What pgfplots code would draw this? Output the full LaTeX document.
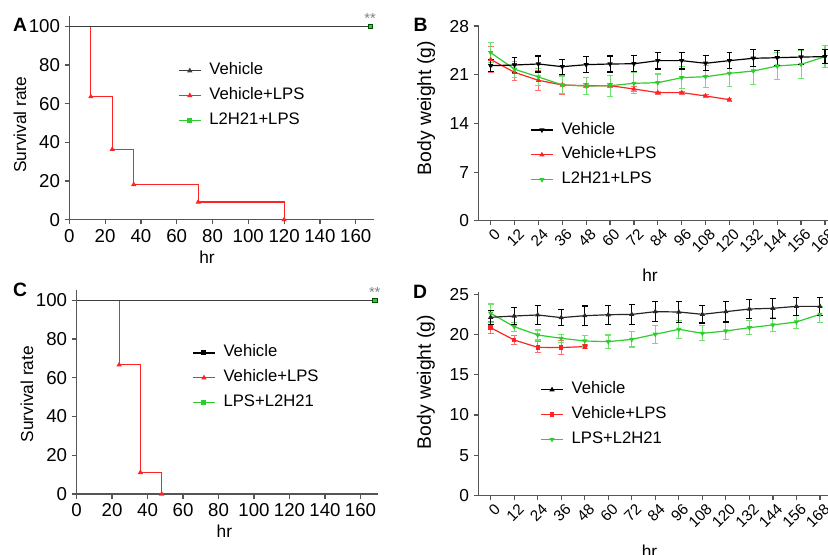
\documentclass[border=0pt]{standalone}
\usepackage{fontspec}
\setmainfont{Liberation Sans}
\usepackage{pgfplots}
\pgfplotsset{compat=1.18}
\definecolor{axgray}{RGB}{85,85,85}
\definecolor{vgray}{RGB}{60,60,60}
\definecolor{lpsred}{RGB}{255,35,35}
\definecolor{lgreen}{RGB}{45,205,45}
\definecolor{errred}{RGB}{255,110,110}
\definecolor{errgreen}{RGB}{110,225,110}
\pgfplotsset{
  panel/.style={
    anchor=south west,
    axis lines=left,
    axis line style={-, line width=0.9pt, draw=axgray},
    tick align=outside,
    major tick length=3.5pt,
    tick style={line width=0.9pt, draw=axgray},
    enlargelimits=false,
    clip=false,
    /pgf/number format/assume math mode=true,
    label style={font=\fontsize{13}{15}\selectfont},
    legend cell align=left,
    legend style={draw=none, fill=none, inner sep=0pt, row sep=6.6pt, column sep=6pt,
      nodes={inner sep=0pt, text height=9pt, text depth=3pt, font=\fontsize{12.5}{14}\selectfont}},
    legend image code/.code={\draw[##1, mark indices={2}] plot coordinates {(0pt,0pt) (8.25pt,0pt) (16.5pt,0pt)};},
  },
  wpanel/.style={
    ticklabel style={font=\fontsize{13}{13}\selectfont},
    xticklabel style={font=\fontsize{11.5}{12}\selectfont, rotate=45, anchor=east, inner sep=0pt, xshift=0.5pt, yshift=-7pt},
    ylabel style={font=\fontsize{14.5}{16}\selectfont},
    error bars/y dir=both, error bars/y explicit,
    error bars/error mark options={rotate=90, mark size=2.2pt, line width=0.8pt},
  },
  ln/.style={line width=0.9pt, mark size=1.4pt},
}
\begin{document}
\begin{tikzpicture}
\path[use as bounding box] (0pt,0pt) rectangle (621pt,416.25pt);
% ---------------- A ----------------
\begin{axis}[panel, at={(51.98pt,251.48pt)}, x=1.3425pt, y=1.4505pt,
  xmin=0, xmax=170, ymin=0, ymax=105.3,
  xtick={0,20,...,160}, ytick={0,20,...,100},
  ticklabel style={font=\fontsize{14}{14}\selectfont},
  ylabel={Survival rate}, ylabel style={at={(rel axis cs:-0.162,0.466)}, anchor=center},
  xlabel={hr}, xlabel style={at={(rel axis cs:0.4525,-0.184)}, anchor=center},
  legend style={at={(rel axis cs:0.357,0.772)}, anchor=north west}]
\addlegendimage{vgray, ln, mark=triangle*}
\addlegendentry{Vehicle}
\addlegendimage{lpsred, ln, mark=triangle*}
\addlegendentry{Vehicle+LPS}
\addlegendimage{lgreen, ln, mark=square*}
\addlegendentry{L2H21+LPS}
\addplot[forget plot, lgreen, ln] coordinates {(0,100) (168,100)};
\addplot[forget plot, lpsred, ln, const plot, mark=triangle*, mark indices={2,3,4,5,6}]
  coordinates {(0,100) (12,63.6) (24,36.4) (36,18.2) (72,9.1) (120,0)};
\addplot[forget plot, vgray, ln] coordinates {(0,100) (168,100)};
\addplot[forget plot, only marks, mark=square*, mark size=1.6pt, mark indices={2},
  mark options={fill=lgreen, draw=black!70!green}] coordinates {(0,100) (168,100)};
\node[font=\fontsize{11}{11}\selectfont, text=gray, anchor=south, inner sep=0pt] at (axis cs:168,101.5) {**};
\end{axis}
% ---------------- B ----------------
\begin{axis}[panel, wpanel, at={(358.73pt,250.65pt)}, x=1.4925pt, y=5.2155pt,
  xmin=-6.2, xmax=169.5, ymin=0, ymax=28.2,
  xtick={0,12,...,168}, ytick={0,7,...,28},
  ylabel={Body weight (g)}, ylabel style={at={(rel axis cs:-0.1496,0.575)}, anchor=center},
  xlabel={hr}, xlabel style={at={(rel axis cs:0.491,-0.276)}, anchor=center},
  legend style={at={(rel axis cs:0.148,0.505)}, anchor=north west}]
\addlegendimage{black, ln, mark=triangle*, mark options={rotate=180}}
\addlegendentry{Vehicle}
\addlegendimage{lpsred, ln, mark=triangle*}
\addlegendentry{Vehicle+LPS}
\addlegendimage{lgreen, ln, mark=triangle*, mark options={rotate=180}}
\addlegendentry{L2H21+LPS}
\addplot[forget plot, lpsred, ln, mark=triangle*, error bars/error bar style={errred, line width=0.8pt}]
  coordinates {(0,23.2) +- (0,1.9) (12,21.35) +- (0,1.2) (24,20.2) +- (0,1.4) (36,19.53) +- (0,1.3)
  (48,19.43) +- (0,0.3) (60,19.43) +- (0,0.3) (72,18.95) +- (0,0.3) (84,18.43) +- (0,0.2)
  (96,18.43) +- (0,0.2) (108,17.95) +- (0,0.2) (120,17.42) +- (0,0.2)};
\addplot[forget plot, lgreen, ln, mark=triangle*, mark options={rotate=180}, error bars/error bar style={errgreen, line width=0.8pt}]
  coordinates {(0,24.18) +- (0,1.4) (12,21.8) +- (0,1.15) (24,20.68) +- (0,1.25) (36,19.53) +- (0,1.2)
  (48,19.38) +- (0,1.22) (60,19.43) +- (0,1.5) (72,19.77) +- (0,1.5) (84,19.86) +- (0,1.25)
  (96,20.58) +- (0,1.55) (108,20.72) +- (0,1.6) (120,21.2) +- (0,1.85) (132,21.54) +- (0,1.9)
  (144,22.26) +- (0,1.94) (156,22.5) +- (0,2.0) (168,23.6) +- (0,1.6)};
\addplot[forget plot, black, ln, mark=triangle*, mark options={rotate=180}, error bars/error bar style={black, line width=0.8pt}]
  coordinates {(0,22.3) +- (0,0.85) (12,22.4) +- (0,1.05) (24,22.55) +- (0,1.15) (36,22.16) +- (0,1.07)
  (48,22.45) +- (0,1.15) (60,22.55) +- (0,1.15) (72,22.58) +- (0,1.13) (84,23.03) +- (0,1.2)
  (96,23.03) +- (0,1.2) (108,22.65) +- (0,1.08) (120,23.03) +- (0,1.15) (132,23.37) +- (0,1.2)
  (144,23.45) +- (0,1.1) (156,23.55) +- (0,1.05) (168,23.6) +- (0,1.0)};
\end{axis}
% ---------------- C ----------------
\begin{axis}[panel, at={(57.38pt,45.75pt)}, x=1.33125pt, y=1.45275pt,
  xmin=0, xmax=170, ymin=0, ymax=105.3,
  xtick={0,20,...,160}, ytick={0,20,...,100},
  ticklabel style={font=\fontsize{14}{14}\selectfont},
  ylabel={Survival rate}, ylabel style={at={(rel axis cs:-0.164,0.49)}, anchor=center},
  xlabel={hr}, xlabel style={at={(rel axis cs:0.49,-0.181)}, anchor=center},
  legend style={at={(rel axis cs:0.383,0.732)}, anchor=north west}]
\addlegendimage{black, ln, mark=square*}
\addlegendentry{Vehicle}
\addlegendimage{lpsred, ln, mark=triangle*}
\addlegendentry{Vehicle+LPS}
\addlegendimage{lgreen, ln, mark=square*}
\addlegendentry{LPS+L2H21}
\addplot[forget plot, lgreen, ln] coordinates {(0,100) (168,100)};
\addplot[forget plot, lpsred, ln, const plot, mark=triangle*, mark indices={2,3,4}]
  coordinates {(0,100) (24,66.7) (36,11.1) (48,0)};
\addplot[forget plot, vgray, ln] coordinates {(0,100) (168,100)};
\addplot[forget plot, only marks, mark=square*, mark size=1.6pt, mark indices={2},
  mark options={fill=lgreen, draw=black!70!green}] coordinates {(0,100) (168,100)};
\node[font=\fontsize{11}{11}\selectfont, text=gray, anchor=south, inner sep=0pt] at (axis cs:168,101.5) {**};
\end{axis}
% ---------------- D ----------------
\begin{axis}[panel, wpanel, at={(358.73pt,44.63pt)}, x=1.47pt, y=6.036pt,
  xmin=-6.3, xmax=172, ymin=0, ymax=25.3,
  xtick={0,12,...,168}, ytick={0,5,...,25},
  ylabel={Body weight (g)}, ylabel style={at={(rel axis cs:-0.15,0.557)}, anchor=center},
  xlabel={hr}, xlabel style={at={(rel axis cs:0.49,-0.273)}, anchor=center},
  legend style={at={(rel axis cs:0.177,0.56)}, anchor=north west}]
\addlegendimage{black, ln, mark=triangle*}
\addlegendentry{Vehicle}
\addlegendimage{lpsred, ln, mark=square*, mark size=1.2pt}
\addlegendentry{Vehicle+LPS}
\addlegendimage{lgreen, ln, mark=triangle*, mark options={rotate=180}}
\addlegendentry{LPS+L2H21}
\addplot[forget plot, lpsred, ln, mark=square*, mark size=1.2pt, error bars/error bar style={errred, line width=0.8pt}]
  coordinates {(0,20.85) +- (0,0.78) (12,19.32) +- (0,0.6) (24,18.41) +- (0,0.68) (36,18.38) +- (0,0.85)
  (48,18.5) +- (0,0.2)};
\addplot[forget plot, lgreen, ln, mark=triangle*, mark options={rotate=180}, error bars/error bar style={errgreen, line width=0.8pt}]
  coordinates {(0,22.64) +- (0,1.15) (12,20.98) +- (0,0.55) (24,19.94) +- (0,0.62) (36,19.53) +- (0,0.5)
  (48,19.2) +- (0,0.66) (60,19.11) +- (0,0.83) (72,19.4) +- (0,0.95) (84,20.03) +- (0,1.14)
  (96,20.65) +- (0,1.14) (108,20.15) +- (0,0.93) (120,20.44) +- (0,1.1) (132,20.85) +- (0,0.87)
  (144,21.19) +- (0,0.87) (156,21.56) +- (0,0.83) (168,22.51) +- (0,0.97)};
\addplot[forget plot, black!85, ln, mark=triangle*, error bars/error bar style={black, line width=0.8pt}]
  coordinates {(0,22.14) +- (0,0.9) (12,22.3) +- (0,1.05) (24,22.43) +- (0,1.2) (36,22.1) +- (0,1.0)
  (48,22.34) +- (0,1.2) (60,22.46) +- (0,1.2) (72,22.5) +- (0,1.2) (84,22.84) +- (0,1.25)
  (96,22.8) +- (0,1.25) (108,22.51) +- (0,1.08) (120,22.84) +- (0,1.28) (132,23.17) +- (0,1.18)
  (144,23.26) +- (0,1.24) (156,23.5) +- (0,1.08) (168,23.5) +- (0,1.1)};
\end{axis}
% panel letters
\node[font=\bfseries\fontsize{14.5}{15}\selectfont] at (15pt,397.5pt) {A};
\node[font=\bfseries\fontsize{14.5}{15}\selectfont] at (315.4pt,397.5pt) {B};
\node[font=\bfseries\fontsize{14.5}{15}\selectfont] at (15pt,198.75pt) {C};
\node[font=\bfseries\fontsize{14.5}{15}\selectfont] at (315pt,197.25pt) {D};
\end{tikzpicture}
\end{document}
